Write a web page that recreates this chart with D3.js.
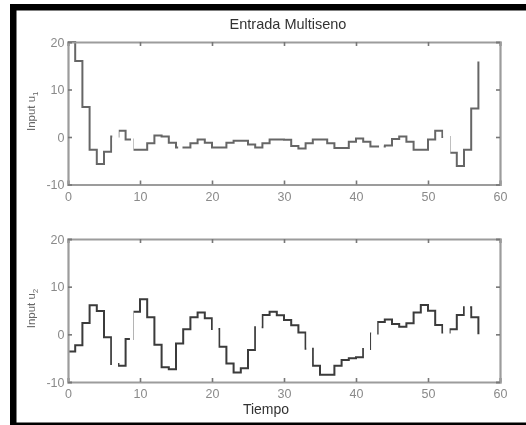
<!DOCTYPE html>
<html>
<head>
<meta charset="utf-8">
<script src="https://cdn.jsdelivr.net/npm/d3@7"></script>
<style>
  html, body { margin: 0; padding: 0; background: #fff; }
  svg { display: block; }
  text { font-family: "Liberation Sans", Arial, sans-serif; }
</style>
</head>
<body>
<svg id="chart" width="526" height="425"></svg>
<script>
// ---- data (sample k lasts from t=k to t=k+1; stairs plot) ----
const title = "Entrada Multiseno";
const xLabel = "Tiempo";
const xTicks = [0, 10, 20, 30, 40, 50, 60];
const yTicks = [-10, 0, 10, 20];

const u1 = [20, 16, 6.3, -2.7, -5.7, -3.1, 0.1, 1.3, -0.5, -2.7,
            -2.7, -1.3, 0.3, 0.1, -1.2, -2.2, -2.2, -1.3, -0.5, -1.2,
            -2.2, -2.2, -1.2, -0.8, -0.8, -1.6, -2.2, -1.3, -0.5, -0.5,
            -0.6, -1.9, -2.4, -1.3, -0.5, -0.5, -1.3, -2.3, -2.3, -1.0,
            -0.3, -1.0, -2.0, -2.0, -1.8, -0.4, 0.1, -1.0, -2.7, -2.7,
            -0.5, 1.3, 0.0, -3.3, -6.1, -2.7, 6.0, 15.9];
const u2 = [-3.6, -2.3, 2.4, 6.1, 4.9, -0.6, -6.2, -6.6, -1.0, 4.75,
            7.35, 3.6, -2.2, -6.9, -7.3, -1.9, 1.05, 3.6, 4.6, 3.4,
            1.1, -2.6, -6.1, -8.0, -7.1, -3.3, 1.5, 4.05, 4.75, 4.0,
            3.0, 1.9, 0.4, -3.0, -6.6, -8.5, -8.5, -6.6, -5.4, -5.0,
            -4.8, -3.1, 0.2, 2.6, 3.1, 2.15, 1.6, 2.3, 4.6, 6.15,
            4.95, 1.95, 0.4, 1.05, 4.05, 5.7, 3.6, 0.0];

// time intervals where the printed trace is missing
const u1Gaps = [[6.15, 7.05], [8.75, 9.1], [15.3, 15.9], [43.2, 43.85], [52.1, 53.1]];
const u2Gaps = [[6.1, 6.95], [8.6, 9.1], [20.1, 20.9], [26.1, 26.9], [33.1, 33.9],
                [41.1, 41.95], [42.1, 42.95], [52.1, 53.0], [55.1, 55.85]];

const panels = [
  { values: u1, gaps: u1Gaps, label: "Input u", sub: "1", top: 42, bottom: 184.5, color: "#666" },
  { values: u2, gaps: u2Gaps, label: "Input u", sub: "2", top: 239, bottom: 382, color: "#3a3a3a" }
];

// ---- drawing ----
const svg = d3.select("#chart");
const W = 526, H = 425;

const defs = svg.append("defs");
defs.append("filter").attr("id", "soft")
  .attr("x", "-5%").attr("y", "-5%").attr("width", "110%").attr("height", "110%")
  .append("feGaussianBlur").attr("stdDeviation", 0.45);

const root = svg.append("g").attr("filter", "url(#soft)");

// scanned frame
root.append("rect").attr("x", 10).attr("y", 4).attr("width", W - 10).attr("height", 6.5).attr("fill", "#000");
root.append("rect").attr("x", 10).attr("y", 4).attr("width", 6.5).attr("height", H - 4).attr("fill", "#000");
root.append("rect").attr("x", 10).attr("y", 422.5).attr("width", W - 10).attr("height", 2.5).attr("fill", "#000");

const x = d3.scaleLinear().domain([0, 60]).range([68, 500]);
const axisColor = "#9c9c9c";
const tickColor = "#8a8a8a";

panels.forEach((p, pi) => {
  const y = d3.scaleLinear().domain([-10, 20]).range([p.bottom, p.top]);
  const g = root.append("g");

  // clip that removes the missing pieces of the trace
  const keep = [];
  let start = -2;
  p.gaps.forEach(([a, b]) => { keep.push([start, a]); start = b; });
  keep.push([start, 62]);
  const cp = defs.append("clipPath").attr("id", "clip" + pi);
  keep.forEach(([a, b]) => {
    cp.append("rect").attr("x", x(a)).attr("y", p.top - 6)
      .attr("width", x(b) - x(a)).attr("height", p.bottom - p.top + 12);
  });

  // stairs
  const pts = p.values.map((v, i) => [i, v]);
  const line = d3.line().x(d => x(d[0])).y(d => y(d[1])).curve(d3.curveStepAfter);
  g.append("path").attr("d", line(pts))
    .attr("fill", "none").attr("stroke", p.color).attr("stroke-width", 2)
    .attr("clip-path", "url(#clip" + pi + ")");

  // axes (box with inward ticks on all sides)
  const bottomAx = d3.axisBottom(x).tickValues(xTicks).tickSize(-4).tickPadding(10).tickFormat(d3.format("d"));
  const topAx = d3.axisTop(x).tickValues(xTicks).tickSize(-4).tickFormat("");
  const leftAx = d3.axisLeft(y).tickValues(yTicks).tickSize(-4).tickPadding(3.5).tickFormat(d => d < 0 ? "-" + Math.abs(d) : d);
  const rightAx = d3.axisRight(y).tickValues(yTicks).tickSize(-4).tickFormat("");

  const axes = [
    g.append("g").attr("transform", `translate(0,${p.bottom})`).call(bottomAx),
    g.append("g").attr("transform", `translate(0,${p.top})`).call(topAx),
    g.append("g").attr("transform", `translate(${x(0)},0)`).call(leftAx),
    g.append("g").attr("transform", `translate(${x(60)},0)`).call(rightAx)
  ];
  axes.forEach(a => {
    a.select(".domain").attr("stroke", axisColor).attr("stroke-width", 2.2);
    a.selectAll(".tick line").attr("stroke", "#777").attr("stroke-width", 1.6);
    a.selectAll(".tick text").attr("fill", tickColor).attr("font-size", 12.5)
      .attr("font-family", "Liberation Sans, Arial, sans-serif");
  });
  axes[0].selectAll(".tick text").attr("dy", "0.5em");

  // y label
  const lbl = g.append("text")
    .attr("transform", `translate(35,${(p.top + p.bottom) / 2 - 2}) rotate(-90)`)
    .attr("text-anchor", "middle").attr("fill", "#666").attr("font-size", 11.5);
  lbl.append("tspan").text(p.label);
  lbl.append("tspan").attr("font-size", 8).attr("dy", 3).text(p.sub);
});

// title and x label
root.append("text").attr("x", 288).attr("y", 28.5).attr("text-anchor", "middle")
  .attr("fill", "#333").attr("font-size", 14.5).text(title);
root.append("text").attr("x", 266).attr("y", 414).attr("text-anchor", "middle")
  .attr("fill", "#333").attr("font-size", 14).text(xLabel);
</script>
</body>
</html>
